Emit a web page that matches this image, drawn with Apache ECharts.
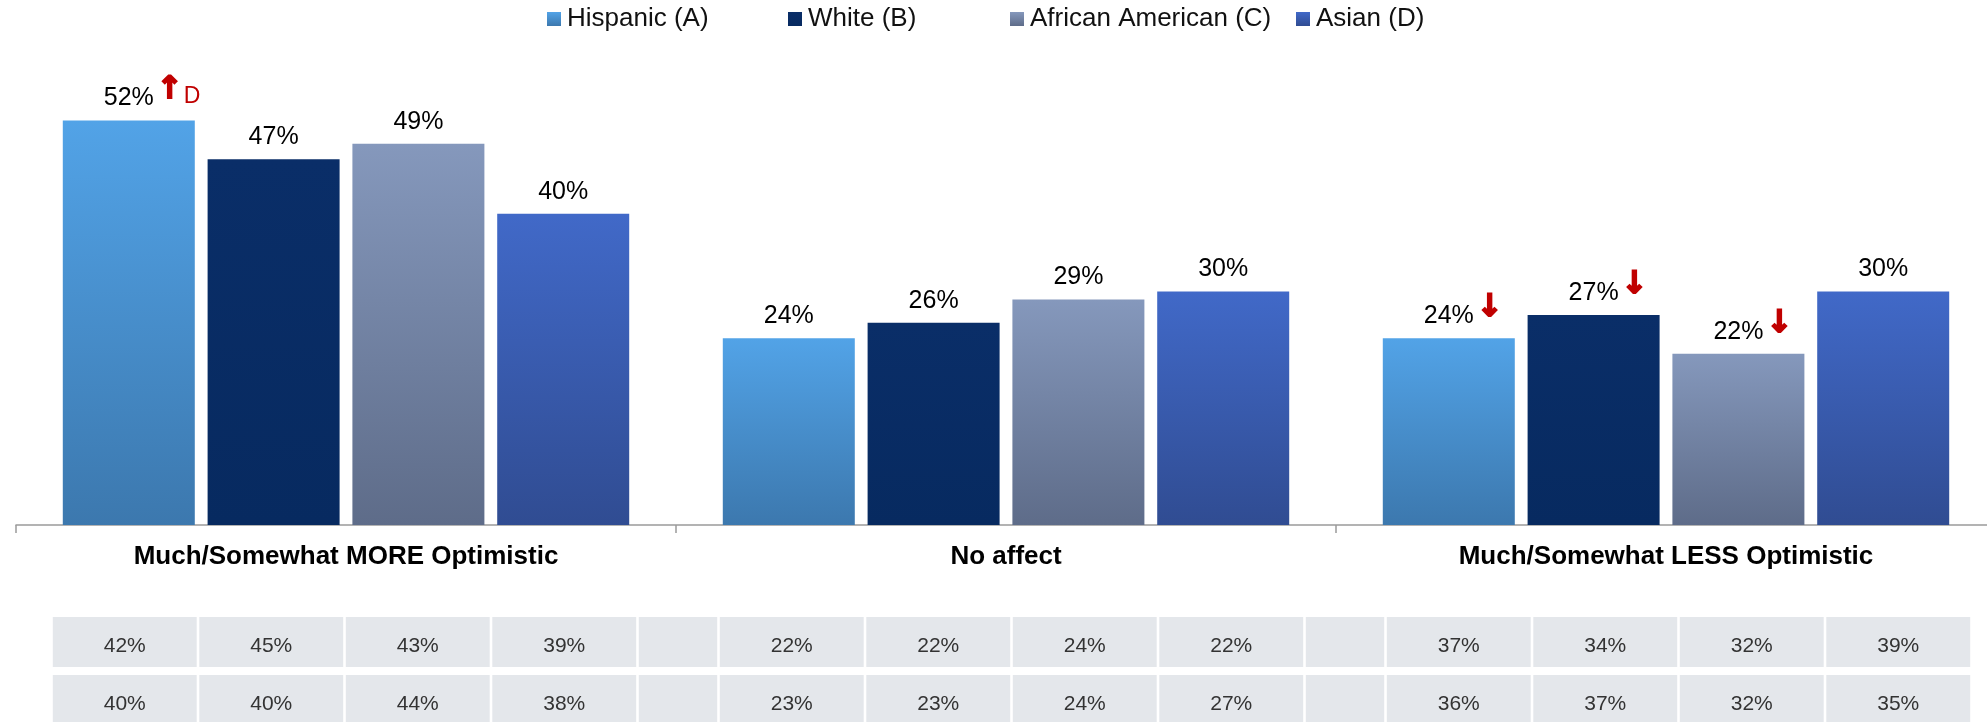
<!DOCTYPE html>
<html>
<head>
<meta charset="utf-8">
<script src="https://cdn.jsdelivr.net/npm/echarts@6/dist/echarts.min.js"></script>
<style>
  html, body { margin: 0; padding: 0; background: #ffffff; overflow: hidden; }
  /* the plot runs a few pixels past the right edge of the window */
  #chart { width: 2000px; height: 722px; }
</style>
</head>
<body>
<div id="chart"></div>
<script>
// ---- data ----
const categories = ['Much/Somewhat MORE Optimistic', 'No affect', 'Much/Somewhat LESS Optimistic'];
const seriesNames = ['Hispanic (A)', 'White (B)', 'African American (C)', 'Asian (D)'];

const hispanic = [52, 24, 24];
const white = [47, 26, 27];
const africanAmerican = [49, 29, 22];
const asian = [40, 30, 30];

// significance markers shown after each value label
const hispanicSig = ['↑D', '', '↓'];
const whiteSig = ['', '', '↓'];
const africanAmericanSig = ['', '', '↓'];
const asianSig = ['', '', ''];

// comparison rows under the chart (A, B, C, D for each category)
const tableRowOne = [42, 45, 43, 39, 22, 22, 24, 22, 37, 34, 32, 39];
const tableRowTwo = [40, 40, 44, 38, 23, 23, 24, 27, 36, 37, 32, 35];

// ---- styling ----
const FONT = '"Liberation Sans", Arial, Helvetica, sans-serif';
const ARROW_FONT = '"DejaVu Sans", sans-serif';
const RED = '#C00000';
const gradients = [
  ['#52A3E7', '#3C78AE'],
  ['#0A2E68', '#072A60'],
  ['#8598BC', '#5E6C89'],
  ['#4169C8', '#304C92']
];
const legendLeft = [547, 788, 1010, 1296];

const values = [hispanic, white, africanAmerican, asian];
const sigs = [hispanicSig, whiteSig, africanAmericanSig, asianSig];

function grad(pair) {
  return new echarts.graphic.LinearGradient(0, 0, 0, 1, [
    { offset: 0, color: pair[0] },
    { offset: 1, color: pair[1] }
  ]);
}

// value label: number centred on the bar, marker appended to the right;
// an invisible copy of the marker on the left keeps the number centred.
function labelText(sIdx, dIdx, value) {
  const sig = sigs[sIdx][dIdx];
  const v = '{v|' + value + '%}';
  if (!sig) return v;
  const arrow = sig.charAt(0);
  const letters = sig.slice(1);
  const mark = '{a|' + arrow + '}' + (letters ? '{l|' + letters + '}' : '');
  const ghost = (letters ? '{gl|' + letters + '}' : '') + '{ga|' + arrow + '}';
  return ghost + v + mark;
}

const arrowStyle = {
  fontSize: 31, fontFamily: ARROW_FONT, fontWeight: 'bold', color: RED,
  textBorderColor: RED, textBorderWidth: 1.8, verticalAlign: 'bottom'
};
const letterStyle = { fontSize: 23, fontFamily: FONT, color: RED, verticalAlign: 'bottom' };

const richStyles = {
  v: { fontSize: 25, fontFamily: FONT, color: '#000000', verticalAlign: 'bottom' },
  a: Object.assign({}, arrowStyle, { padding: [0, 0, 5, 3] }),
  l: Object.assign({}, letterStyle, { padding: [0, 0, 3, 1] }),
  ga: Object.assign({}, arrowStyle, { color: 'transparent', textBorderColor: 'transparent', padding: [0, 3, 5, 0] }),
  gl: Object.assign({}, letterStyle, { color: 'transparent', padding: [0, 1, 3, 0] })
};

const barSeries = seriesNames.map((name, s) => ({
  name: name,
  type: 'bar',
  xAxisIndex: 0,
  yAxisIndex: 0,
  data: values[s],
  barWidth: 132,
  barGap: '9.7%',
  itemStyle: { color: grad(gradients[s]) },
  label: {
    show: true,
    position: 'top',
    distance: 9.5,
    formatter: p => labelText(s, p.dataIndex, p.value),
    rich: richStyles
  }
}));

// ---- comparison table cells ----
const ROW_PX = 58;          // row pitch of the table
const TABLE_TOP = 613;
const TABLE_H = 722 - TABLE_TOP;
const spacerUnits = 0.553;
function colStart(group, idx) { return group * (4 + spacerUnits) + idx; }
const cells = [];
[tableRowOne, tableRowTwo].forEach((row, r) => {
  row.forEach((val, k) => {
    const g = Math.floor(k / 4), i = k % 4;
    cells.push([colStart(g, i), colStart(g, i) + 1, r, val + '%']);
  });
  for (let g = 0; g < 2; g++) {
    cells.push([colStart(g, 4), colStart(g, 4) + spacerUnits, r, '']);
  }
});
const tableData = cells.map(c => [c[0], c[1], c[2]]);

const tableSeries = {
  type: 'custom',
  xAxisIndex: 1,
  yAxisIndex: 1,
  data: tableData,
  silent: true,
  clip: false,
  renderItem: function (params, api) {
    const row = api.value(2);
    const p0 = api.coord([api.value(0), row]);
    const p1 = api.coord([api.value(1), row + 1]);
    const gapX = 2.6, gapY = 8;
    const x = p0[0] + gapX / 2;
    const w = p1[0] - p0[0] - gapX;
    const y = p0[1] + gapY / 2;
    const h = p1[1] - p0[1] - gapY;
    const text = cells[params.dataIndex][3];
    return {
      type: 'group',
      children: [
        { type: 'rect', shape: { x: x, y: y, width: w, height: h }, style: { fill: '#E4E7EB' } },
        {
          type: 'text',
          style: {
            text: text, x: x + w / 2, y: y + h / 2 + 4,
            align: 'center', verticalAlign: 'middle',
            fill: '#333333', fontSize: 21, fontFamily: FONT
          }
        }
      ]
    };
  }
};

const legends = seriesNames.map((name, i) => ({
  data: [name],
  left: legendLeft[i],
  top: 6,
  padding: 0,
  icon: 'rect',
  itemWidth: 14,
  itemHeight: 14,
  itemGap: 0,
  selectedMode: false,
  textStyle: { fontSize: 26, fontFamily: FONT, color: '#111111', padding: [0, 0, 0, 1] }
}));

const chart = echarts.init(document.getElementById('chart'), null, { renderer: 'canvas' });
chart.setOption({
  animation: false,
  backgroundColor: '#ffffff',
  legend: legends,
  grid: [
    { left: 16, width: 1980, top: 58.2, bottom: 197 },
    { left: 51.5, width: 1920, top: TABLE_TOP, height: TABLE_H }
  ],
  xAxis: [
    {
      type: 'category',
      gridIndex: 0,
      data: categories,
      axisLine: { lineStyle: { color: '#9A9A9A', width: 1.5 } },
      axisTick: { show: true, length: 8, lineStyle: { color: '#9A9A9A', width: 1.5 } },
      axisLabel: {
        margin: 19,
        fontSize: 26,
        fontWeight: 'bold',
        fontFamily: FONT,
        color: '#000000',
        interval: 0
      }
    },
    { type: 'value', gridIndex: 1, min: 0, max: 12 + 2 * spacerUnits, show: false }
  ],
  yAxis: [
    { type: 'value', gridIndex: 0, min: 0, max: 60, show: false },
    { type: 'value', gridIndex: 1, min: 0, max: TABLE_H / ROW_PX, inverse: true, show: false }
  ],
  series: barSeries.concat([tableSeries])
});
</script>
</body>
</html>
